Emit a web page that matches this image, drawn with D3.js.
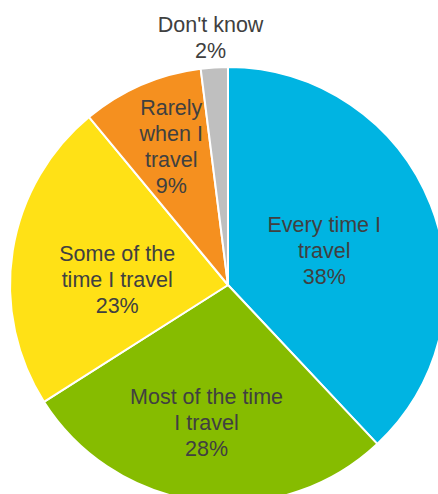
<!DOCTYPE html>
<html>
<head>
<meta charset="utf-8">
<script src="https://cdn.jsdelivr.net/npm/d3@7"></script>
<style>
  html, body { margin: 0; padding: 0; background: #ffffff; }
  svg { display: block; }
  text { font-family: "Liberation Sans", Arial, sans-serif; }
</style>
</head>
<body>
<svg id="chart" width="438" height="494"></svg>
<script>
// How often people do this when they travel (share of respondents)
const categories = [
  "Every time I travel",
  "Most of the time I travel",
  "Some of the time I travel",
  "Rarely when I travel",
  "Don't know"
];
const shares = [38, 28, 23, 9, 2];
const labelLines = [
  ["Every time I", "travel"],
  ["Most of the time", "I travel"],
  ["Some of the", "time I travel"],
  ["Rarely", "when I", "travel"],
  ["Don't know"]
];
const sliceColors = ["#00b4e2", "#86bc00", "#ffe116", "#f5901f", "#bfbfbf"];

const data = categories.map((c, i) => ({ category: c, value: shares[i], lines: labelLines[i] }));

const svg = d3.select("#chart");
const cx = 228, cy = 285, R = 218;
const g = svg.append("g").attr("transform", `translate(${cx},${cy})`);

const pie = d3.pie().sort(null).value(d => d.value).startAngle(0).endAngle(2 * Math.PI);
const arcs = pie(data);
const arc = d3.arc().innerRadius(0).outerRadius(R);

g.selectAll("path.slice")
  .data(arcs)
  .join("path")
  .attr("class", "slice")
  .attr("d", arc)
  .attr("fill", (d, i) => sliceColors[i])
  .attr("stroke", "#ffffff")
  .attr("stroke-width", 2)
  .attr("stroke-linejoin", "round");

// Label placement: radius as a fraction of R, plus a small nudge in px
const labelLayout = [
  { k: 0.47, dx: 1, dy: 3 },
  { k: 0.64, dx: -4, dy: -1 },
  { k: 0.51, dx: -1, dy: 12 },
  { k: 0.69, dx: 3, dy: -1 },
  { k: 1.13, dx: -2, dy: -2 }
];
const fontSize = 21.5;
const lineGap = 26;
const capHalf = 7.6;

g.selectAll("text.label")
  .data(arcs)
  .join("text")
  .attr("class", "label")
  .attr("text-anchor", "middle")
  .attr("font-size", fontSize)
  .attr("fill", "#404040")
  .each(function (d, i) {
    const lay = labelLayout[i];
    const r = lay.k * R;
    const [px, py] = d3.arc().innerRadius(r).outerRadius(r).centroid(d);
    const x = px + lay.dx, y = py + lay.dy;
    const lines = d.data.lines.concat([d.data.value + "%"]);
    const n = lines.length;
    const t = d3.select(this);
    lines.forEach((ln, j) => {
      t.append("tspan")
        .attr("x", x)
        .attr("y", y - (n - 1) * lineGap / 2 + j * lineGap + capHalf)
        .text(ln);
    });
  });
</script>
</body>
</html>
